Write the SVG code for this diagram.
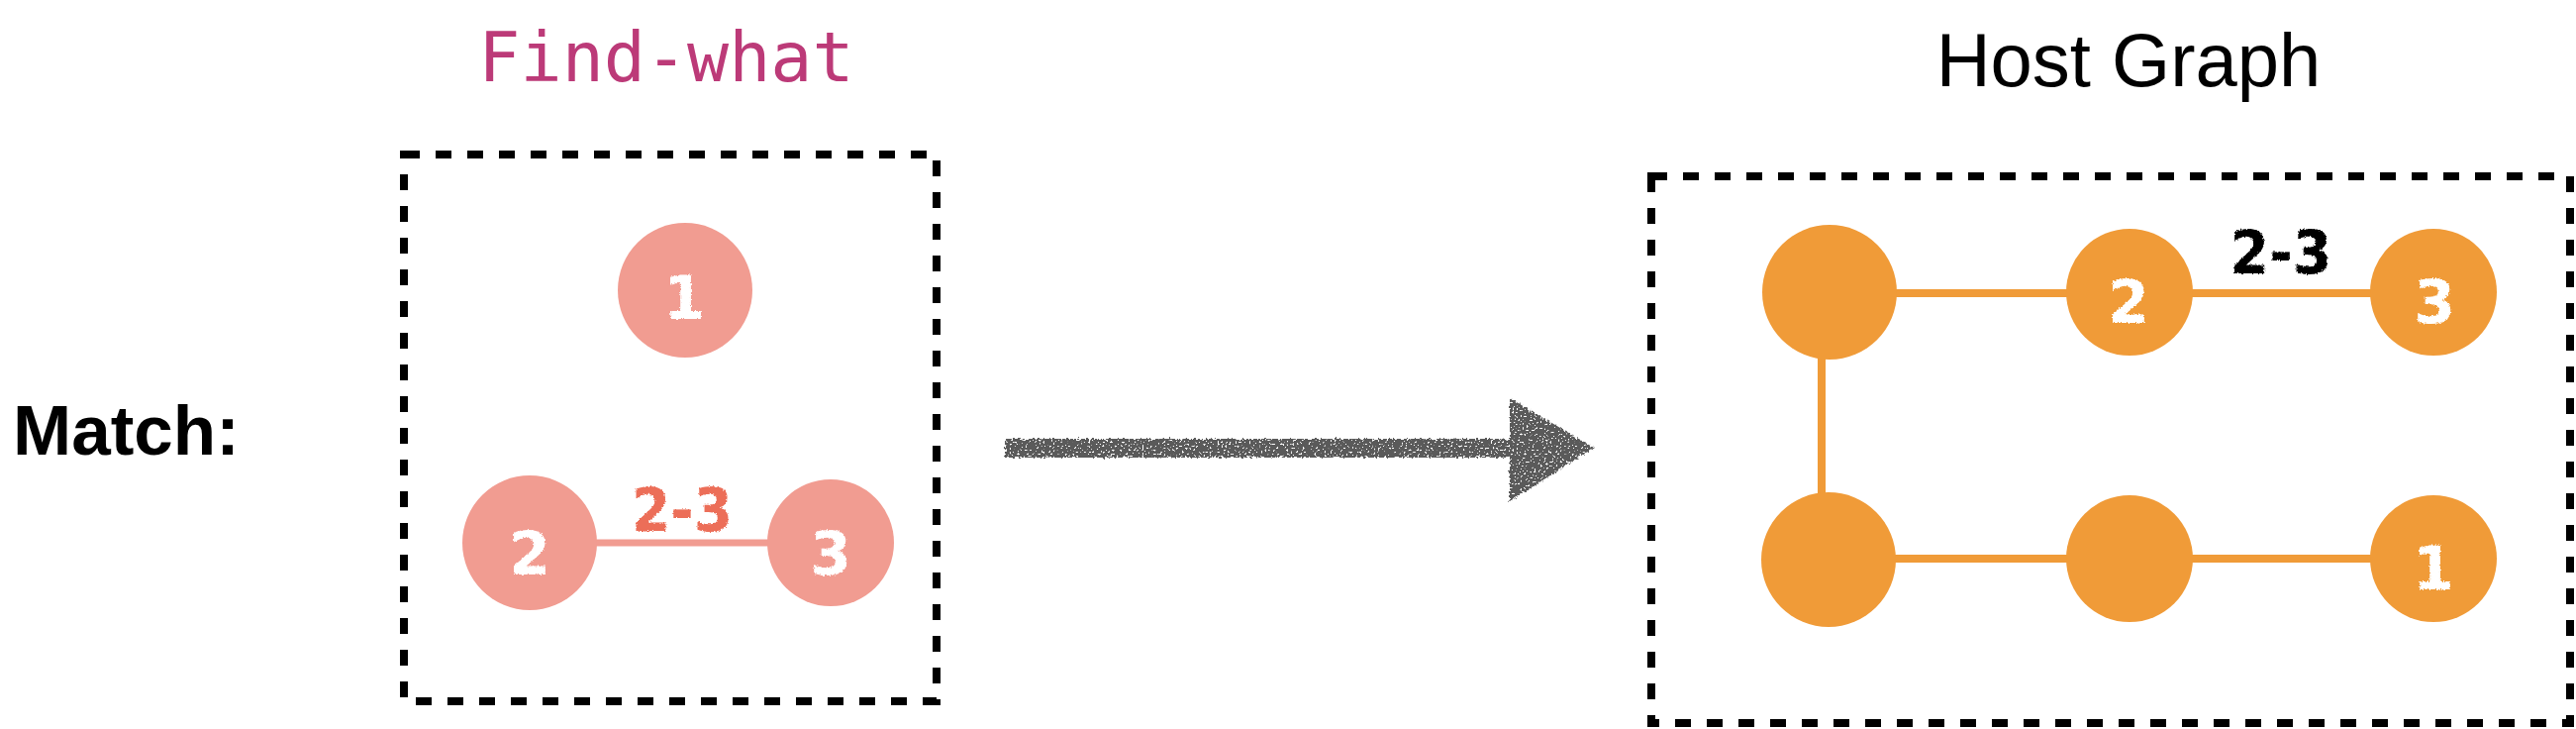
<svg xmlns="http://www.w3.org/2000/svg" width="2602" height="736" viewBox="0 0 2602 736">
<style>
.box{fill:none;stroke:#000;stroke-width:8;stroke-dasharray:16 16}
.pn{fill:#F19C91}
.on{fill:#F09B38}
.pe{stroke:#F19C91;stroke-width:7;fill:none}
.oe{stroke:#F09B38;stroke-width:8;fill:none}
.hw{font-family:"DejaVu Sans","Liberation Sans",sans-serif;font-weight:bold;font-size:60px;text-anchor:middle;filter:url(#rough)}
.wd{fill:#fff}
</style>
<defs>
<filter id="rough" x="-20%" y="-20%" width="140%" height="140%">
<feTurbulence type="fractalNoise" baseFrequency="0.6" numOctaves="2" seed="4" result="n"/>
<feDisplacementMap in="SourceGraphic" in2="n" scale="3.5" xChannelSelector="R" yChannelSelector="G"/>
</filter>
<filter id="chalk" x="-5%" y="-30%" width="110%" height="160%">
<feTurbulence type="fractalNoise" baseFrequency="0.35" numOctaves="2" seed="9" result="n"/>
<feDisplacementMap in="SourceGraphic" in2="n" scale="5" xChannelSelector="R" yChannelSelector="G" result="d"/>
<feTurbulence type="fractalNoise" baseFrequency="0.5" numOctaves="1" seed="2" result="n2"/>
<feColorMatrix in="n2" type="matrix" values="0 0 0 0 0  0 0 0 0 0  0 0 0 0 0  -12 0 0 0 8.4" result="holes"/>
<feComposite in="d" in2="holes" operator="in"/>
</filter>
</defs>
<rect width="2602" height="736" fill="#fff"/>

<g id="title-find">
<text x="673" y="82" font-family="DejaVu Sans Mono,Liberation Mono,monospace" font-size="70" fill="#BC3A78" text-anchor="middle">Find-what</text>
</g>
<g id="title-host">
<text x="2150" y="87" font-family="Liberation Sans,Arial,sans-serif" font-size="76" fill="#000" text-anchor="middle">Host Graph</text>
</g>
<g id="label-match">
<text x="13" y="459" font-family="Liberation Sans,Arial,sans-serif" font-size="71" font-weight="bold" fill="#000">Match:</text>
</g>

<g id="find-box"><rect class="box" x="408" y="156" width="538" height="552"/></g>
<g id="host-box"><rect class="box" x="1668" y="178" width="928" height="552"/></g>

<g id="connectors">
<line class="pe" x1="600" y1="548" x2="780" y2="548"/>
<line class="oe" x1="1900" y1="296" x2="2410" y2="296"/>
<line class="oe" x1="1900" y1="564" x2="2410" y2="564"/>
<line class="oe" x1="1840" y1="350" x2="1840" y2="510"/>
<g id="arrow" fill="#5A5A5A" filter="url(#chalk)">
<rect x="1015" y="443" width="515" height="19"/>
<path d="M1525 402 L1610 452 L1525 506 Z"/>
</g>
</g>

<g id="f1"><circle class="pn" cx="692" cy="293" r="68"/><text class="hw wd" x="691" y="322">1</text></g>
<g id="f2"><circle class="pn" cx="535" cy="548" r="68"/><text class="hw wd" x="535" y="580">2</text></g>
<g id="f3"><circle class="pn" cx="839" cy="548" r="64"/><text class="hw wd" x="839" y="580">3</text></g>
<g id="f-label"><text class="hw" x="689" y="536" fill="#EC6E58" textLength="102" lengthAdjust="spacingAndGlyphs">2-3</text></g>

<g id="h-tl"><circle class="on" cx="1848" cy="295" r="68"/></g>
<g id="h-2"><circle class="on" cx="2151" cy="295" r="64"/><text class="hw wd" x="2150" y="326">2</text></g>
<g id="h-3"><circle class="on" cx="2458" cy="295" r="64"/><text class="hw wd" x="2459" y="326">3</text></g>
<g id="h-bl"><circle class="on" cx="1847" cy="565" r="68"/></g>
<g id="h-bm"><circle class="on" cx="2151" cy="564" r="64"/></g>
<g id="h-1"><circle class="on" cx="2458" cy="564" r="64"/><text class="hw wd" x="2458" y="595">1</text></g>
<g id="h-label"><text class="hw" x="2304" y="276" fill="#000" textLength="103" lengthAdjust="spacingAndGlyphs">2-3</text></g>
</svg>
